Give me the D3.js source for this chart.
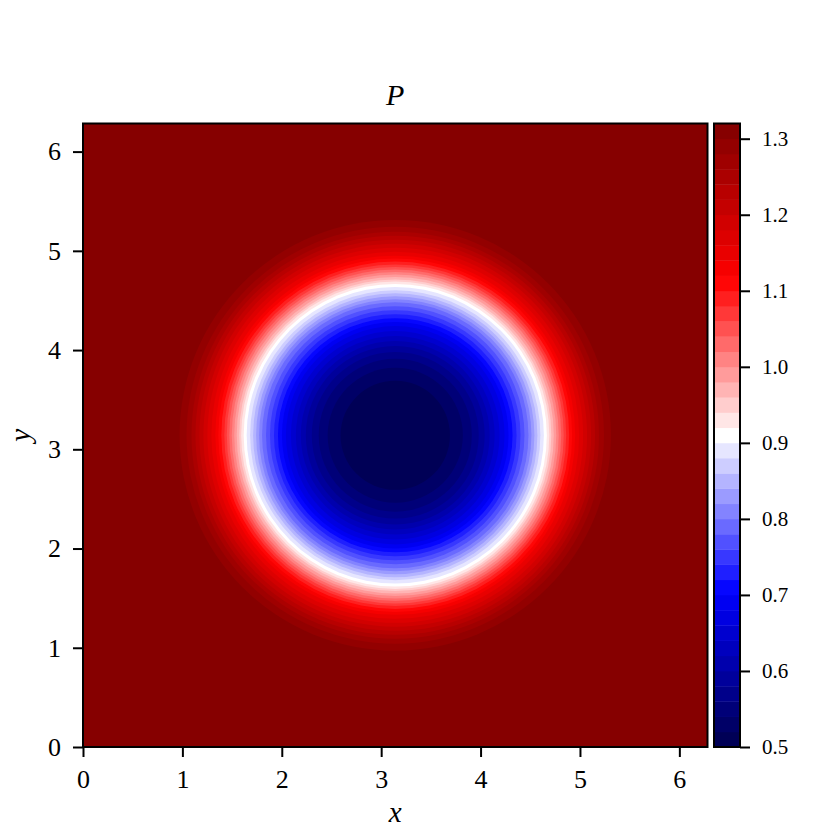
<!DOCTYPE html>
<html>
<head>
<meta charset="utf-8">
<script src="https://d3js.org/d3.v7.min.js"></script>
<style>
body { margin: 0; background: #fff; }
text { font-family: "Liberation Serif", "DejaVu Serif", serif; fill: #000; }
</style>
</head>
<body>
<div id="canvas" class="canvas"></div>
<script>
//contour levels of P (lower edge of each band), 0.50 .. 1.32
var levels = [0.50, 0.52, 0.54, 0.56, 0.58, 0.60, 0.62, 0.64, 0.66, 0.68,
              0.70, 0.72, 0.74, 0.76, 0.78, 0.80, 0.82, 0.84, 0.86, 0.88,
              0.90, 0.92, 0.94, 0.96, 0.98, 1.00, 1.02, 1.04, 1.06, 1.08,
              1.10, 1.12, 1.14, 1.16, 1.18, 1.20, 1.22, 1.24, 1.26, 1.28,
              1.30, 1.32];

//radius (from the centre pi,pi) where P crosses levels[1..40]
var radii = [0.55, 0.68, 0.77, 0.84, 0.90, 0.95, 1.00, 1.05, 1.10,
             1.14, 1.18, 1.22, 1.26, 1.30, 1.34, 1.37, 1.40, 1.43, 1.46,
             1.495, 1.525, 1.55, 1.57, 1.595, 1.62, 1.645, 1.67, 1.695, 1.72,
             1.75, 1.78, 1.81, 1.85, 1.89, 1.93, 1.97, 2.01, 2.05, 2.10,
             2.17];

var centre = [Math.PI, Math.PI];

var xTicks = [0, 1, 2, 3, 4, 5, 6],
    yTicks = [0, 1, 2, 3, 4, 5, 6],
    cbTicks = [0.5, 0.6, 0.7, 0.8, 0.9, 1.0, 1.1, 1.2, 1.3];

var w = 831, h = 831;

var paper = d3.select(".canvas")
	.append("svg")
	.attr("width", w)
	.attr("height", h);

//seismic colormap, normalised on the level range
var seismic = d3.scaleLinear()
	.domain([0, 0.25, 0.5, 0.75, 1])
	.range(["rgb(0,0,77)", "rgb(0,0,255)", "rgb(255,255,255)", "rgb(255,0,0)", "rgb(128,0,0)"])
	.clamp(true);
var vmin = levels[0], vmax = levels[levels.length - 1];
function bandColor(i) {
	var mid = (levels[i] + levels[i + 1]) / 2;
	return seismic((mid - vmin) / (vmax - vmin));
}

var x = d3.scaleLinear().domain([0, 2 * Math.PI]).range([83, 707.5]);
var y = d3.scaleLinear().domain([0, 2 * Math.PI]).range([747, 123.5]);

//plot area
var plot = paper.append("g");

plot.append("rect")
	.attr("x", x(0))
	.attr("y", y(2 * Math.PI))
	.attr("width", x(2 * Math.PI) - x(0))
	.attr("height", y(0) - y(2 * Math.PI))
	.style("fill", bandColor(levels.length - 2));

//filled bands as stacked discs, outermost first
var discs = radii.map(function(r, i) { return {r: r, band: i}; }).reverse();

plot.selectAll("ellipse.band")
	.data(discs)
	.enter()
	.append("ellipse")
	.attr("class", "band")
	.attr("cx", x(centre[0]))
	.attr("cy", y(centre[1]))
	.attr("rx", function(d) { return x(centre[0] + d.r) - x(centre[0]); })
	.attr("ry", function(d) { return y(centre[1]) - y(centre[1] + d.r); })
	.style("fill", function(d) { return bandColor(d.band); });

//frame
plot.append("rect")
	.attr("x", x(0))
	.attr("y", y(2 * Math.PI))
	.attr("width", x(2 * Math.PI) - x(0))
	.attr("height", y(0) - y(2 * Math.PI))
	.style("fill", "none")
	.style("stroke", "black")
	.style("stroke-width", "2px");

//axes
var xAxis = paper.append("g")
	.attr("transform", "translate(0," + y(0) + ")")
	.call(d3.axisBottom(x).tickValues(xTicks).tickSize(10).tickPadding(13).tickFormat(d3.format("d")));
var yAxis = paper.append("g")
	.attr("transform", "translate(" + x(0) + ",0)")
	.call(d3.axisLeft(y).tickValues(yTicks).tickSize(10).tickPadding(12).tickFormat(d3.format("d")));

[xAxis, yAxis].forEach(function(a) {
	a.select(".domain").remove();
	a.selectAll(".tick line").style("stroke", "black").style("stroke-width", "2px");
	a.selectAll(".tick text").style("font-size", "26px").attr("font-family", null);
});

//labels
paper.append("text")
	.attr("x", (x(0) + x(2 * Math.PI)) / 2)
	.attr("y", 105)
	.attr("text-anchor", "middle")
	.style("font-size", "30px")
	.style("font-style", "italic")
	.text("P");

paper.append("text")
	.attr("x", (x(0) + x(2 * Math.PI)) / 2)
	.attr("y", 822)
	.attr("text-anchor", "middle")
	.style("font-size", "29px")
	.style("font-style", "italic")
	.text("x");

paper.append("text")
	.attr("transform", "translate(30," + (y(0) + y(2 * Math.PI)) / 2 + ") rotate(-90)")
	.attr("text-anchor", "middle")
	.style("font-size", "29px")
	.style("font-style", "italic")
	.text("y");

//colorbar
var cbX = 714, cbW = 26;
var cb = d3.scaleLinear().domain([vmin, vmax]).range([747, 123.5]);

var bar = paper.append("g");
bar.selectAll("rect.cb")
	.data(d3.range(levels.length - 1))
	.enter()
	.append("rect")
	.attr("class", "cb")
	.attr("x", cbX)
	.attr("y", function(i) { return cb(levels[i + 1]); })
	.attr("width", cbW)
	.attr("height", function(i) { return cb(levels[i]) - cb(levels[i + 1]) + 0.4; })
	.style("fill", function(i) { return bandColor(i); });

bar.append("rect")
	.attr("x", cbX)
	.attr("y", cb(vmax))
	.attr("width", cbW)
	.attr("height", cb(vmin) - cb(vmax))
	.style("fill", "none")
	.style("stroke", "black")
	.style("stroke-width", "2px");

var cbAxis = paper.append("g")
	.attr("transform", "translate(" + (cbX + cbW) + ",0)")
	.call(d3.axisRight(cb).tickValues(cbTicks).tickSize(10).tickPadding(12).tickFormat(d3.format(".1f")));
cbAxis.select(".domain").remove();
cbAxis.selectAll(".tick line").style("stroke", "black").style("stroke-width", "2px");
cbAxis.selectAll(".tick text").style("font-size", "21px").attr("font-family", null);
</script>
</body>
</html>
